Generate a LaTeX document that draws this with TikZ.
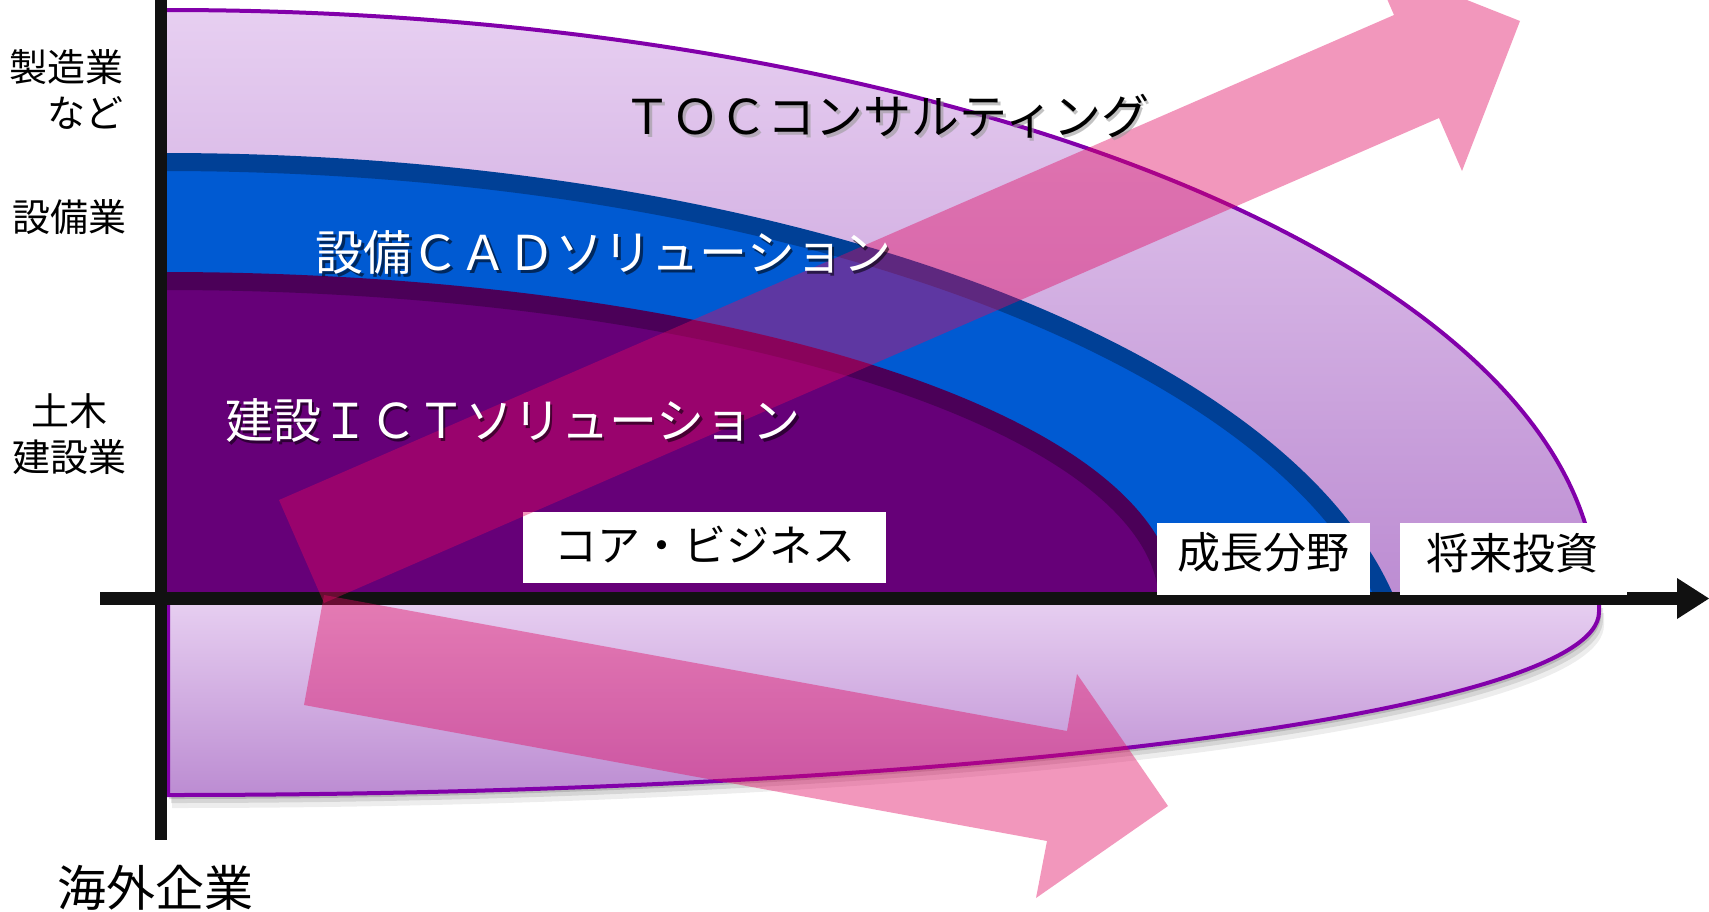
\documentclass[tikz,border=0pt]{standalone}
\usepackage{fontspec}
\newfontfamily\jp{Noto Sans CJK JP}
\definecolor{axisblack}{RGB}{17,17,17}
\definecolor{tocline}{RGB}{130,0,170}
\definecolor{toctop}{RGB}{231,207,241}
\definecolor{tocbot}{RGB}{188,140,210}
\definecolor{cadfill}{RGB}{0,90,210}
\definecolor{cadline}{RGB}{0,64,150}
\definecolor{ictfill}{RGB}{102,0,120}
\definecolor{ictline}{RGB}{75,0,88}
\definecolor{arrowpink}{RGB}{225,8,96}
\begin{document}
\begin{tikzpicture}[x=0.5pt,y=-0.5pt,
  pinkarrow/.style={fill=arrowpink, fill opacity=0.42},
  bigtxt/.style={inner sep=0pt, font=\jp\fontsize{24}{28}\selectfont},
  boxtxt/.style={inner sep=0pt, font=\jp\fontsize{21.5}{26}\selectfont, text=black},
  sidetxt/.style={inner sep=0pt, font=\jp\fontsize{19}{23}\selectfont, text=black},
  labelbox/.style={fill=white},
  axisbar/.style={fill=axisblack}]
\useasboundingbox (0,0) rectangle (1709,911);
\clip (0,0) rectangle (1709,911);
% TOC upper region
\fill[top color=toctop, bottom color=tocbot]
  (167,600) -- (167,10) .. controls (956.8,10) and (1597,274.1) .. (1597,600) -- cycle;
\draw[tocline, line width=2] (167,10) .. controls (956.8,10) and (1597,274.1) .. (1597,600);
\begin{scope}
\clip (0,0) rectangle (1709,603);
% CAD region
\fill[cadfill] (167,700) -- (167,162) .. controls (851.9,162) and (1407,401.8) .. (1407,700) -- cycle;
\draw[cadline, line width=9] (163,162) .. controls (851.9,162) and (1407,401.8) .. (1407,700);
% ICT region
\fill[ictfill] (167,600) -- (167,281) .. controls (719.8,281) and (1168,423.8) .. (1168,600) -- cycle;
\draw[ictline, line width=9] (163,281) .. controls (719.8,281) and (1168,423.8) .. (1168,604);
\end{scope}
% lower region shadow
\fill[black, opacity=0.07, shift={(5,13)}] (167,600) -- (1599,600) -- (1599,612) .. controls (1599,713) and (958,795) .. (167,795) -- cycle;
\fill[black, opacity=0.10, shift={(4,8)}] (167,600) -- (1599,600) -- (1599,612) .. controls (1599,713) and (958,795) .. (167,795) -- cycle;
\fill[black, opacity=0.14, shift={(2,4)}] (167,600) -- (1599,600) -- (1599,612) .. controls (1599,713) and (958,795) .. (167,795) -- cycle;
% lower region
\fill[top color=toctop, bottom color=tocbot]
  (167,600) -- (1599,600) -- (1599,612) .. controls (1599,713) and (958,795) .. (167,795) -- cycle;
\draw[tocline, line width=2] (168,602) -- (168,795) .. controls (958,795) and (1599,713) .. (1599,612) -- (1599,600);
% axes
\fill[axisbar] (155,0) rectangle (167,840);
\fill[axisbar] (100,592) rectangle (1682,605);
\fill[axisbar] (1677,578) -- (1709,598.5) -- (1677,619) -- cycle;
% label boxes
\fill[labelbox] (523,512) rectangle (886,583);
\fill[labelbox] (1157,523) rectangle (1370,595);
\fill[labelbox] (1400,523) rectangle (1627,595);
% pink arrows
\fill[pinkarrow] (279,500) -- (1394,15) -- (1371,-38) -- (1520,21) -- (1462,171) -- (1439,118) -- (324,603) -- cycle;
\fill[pinkarrow] (324,595) -- (1067,731) -- (1077,674) -- (1168,806) -- (1036,898) -- (1047,841) -- (304,705) -- cycle;
% texts
\node[bigtxt, text=black!40, opacity=0.6] (tocS) at (889,119) {ＴＯＣコンサルティング};
\node[bigtxt, text=black] (toc) at (886.5,116) {ＴＯＣコンサルティング};
\node[bigtxt, text=black, opacity=0.55] (cadS) at (606,255) {設備ＣＡＤソリューション};
\node[bigtxt, text=white] (cad) at (603.5,252) {設備ＣＡＤソリューション};
\node[bigtxt, text=black, opacity=0.55] (ictS) at (515.5,423) {建設ＩＣＴソリューション};
\node[bigtxt, text=white] (ict) at (513,420) {建設ＩＣＴソリューション};
\node[boxtxt] (core) at (705,545) {コア・ビジネス};
\node[boxtxt] (growth) at (1263.5,552) {成長分野};
\node[boxtxt] (future) at (1512.5,553) {将来投資};
\node[sidetxt, align=right, anchor=east] (mfg) at (124,89) {製造業\\など};
\node[sidetxt] (equip) at (69,217) {設備業};
\node[sidetxt, align=center] (civil) at (69,434.5) {土木\\建設業};
\node[inner sep=0pt, font=\jp\fontsize{24.5}{28}\selectfont] (overseas) at (155,888) {海外企業};
\end{tikzpicture}
\end{document}
